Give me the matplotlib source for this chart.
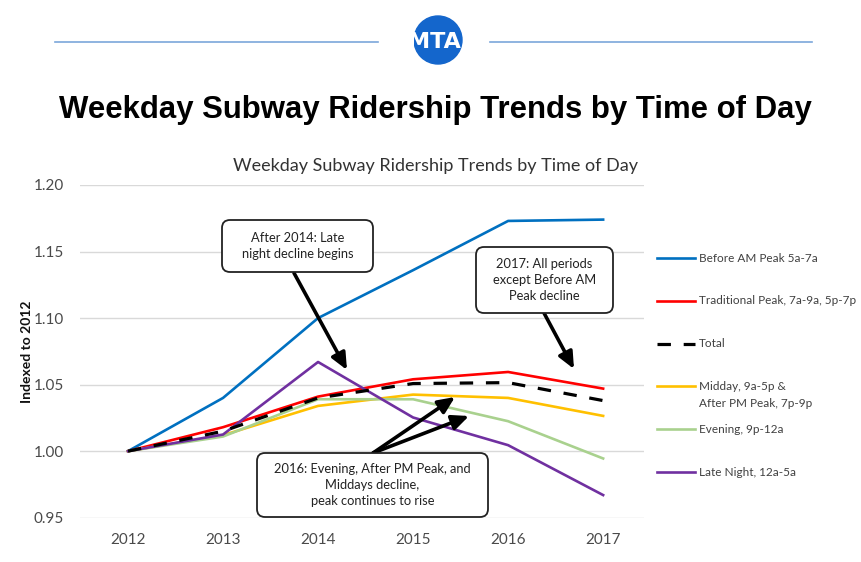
import numpy as np
import matplotlib
matplotlib.use("Agg")
import matplotlib.pyplot as plt
from matplotlib.patches import Circle, FancyBboxPatch, FancyArrowPatch

plt.rcParams['font.family'] = ['Lato', 'DejaVu Sans']

# data
years = ['2012', '2013', '2014', '2015', '2016', '2017']
before_am = [1.000, 1.040, 1.100, 1.136, 1.173, 1.174]
trad_peak = [1.000, 1.018, 1.041, 1.054, 1.0595, 1.047]
total = [1.000, 1.015, 1.040, 1.0508, 1.0515, 1.038]
midday = [1.000, 1.012, 1.034, 1.0425, 1.040, 1.0265]
evening = [1.000, 1.011, 1.039, 1.039, 1.0225, 0.9945]
late_night = [1.000, 1.0125, 1.067, 1.0253, 1.0045, 0.967]

series_labels = ['Before AM Peak 5a-7a', 'Traditional Peak, 7a-9a, 5p-7p', 'Total',
                 'Midday, 9a-5p &\nAfter PM Peak, 7p-9p', 'Evening, 9p-12a', 'Late Night, 12a-5a']
series_values = [before_am, trad_peak, total, midday, evening, late_night]
colors = ['#0070C0', '#FF0000', '#000000', '#FFC000', '#A9D18E', '#7030A0']

yticks = [0.95, 1.00, 1.05, 1.10, 1.15, 1.20]

fig = plt.figure(figsize=(8.62, 5.62), dpi=100)
W, H = 862, 562

# main chart
ax = fig.add_axes([80.5 / W, 1 - 517.7 / H, 563.5 / W, (517.7 - 185) / H])
for lab, vals, c in zip(series_labels, series_values, colors):
    if lab == 'Total':
        ax.plot(years, vals, color=c, lw=2.3, linestyle=(0, (4.2, 4.0)), zorder=4)
    else:
        ax.plot(years, vals, color=c, lw=1.9, zorder=3)

ax.set_xlim(-0.5, 5.43)
ax.set_ylim(0.95, 1.20)
ax.set_yticks(yticks)
ax.set_yticklabels(['%.2f' % v for v in yticks])
ax.grid(axis='y', color='#d9d9d9', lw=1)
ax.set_axisbelow(True)
for s in ax.spines.values():
    s.set_visible(False)
ax.tick_params(length=0, labelsize=11, colors='#4a4a4a')
ax.tick_params(axis='y', pad=12)
ax.tick_params(axis='x', pad=11)

# overlay in pixel coords for header, legend, callouts
ov = fig.add_axes([0, 0, 1, 1], zorder=10)
ov.set_xlim(0, W)
ov.set_ylim(H, 0)
ov.set_axis_off()

# header
ov.plot([55, 378], [42, 42], color='#7ba7da', lw=1.2)
ov.plot([490, 812], [42, 42], color='#7ba7da', lw=1.2)
ov.add_patch(Circle((438, 40), 24, color='#1466cc'))
ov.text(434, 42, 'MTA', color='white', fontsize=16, fontweight='bold',
        family=['Liberation Sans Narrow', 'DejaVu Sans'], ha='center', va='center')
ov.text(435, 110, 'Weekday Subway Ridership Trends by Time of Day', fontsize=22.4,
        fontweight='bold', family=['Liberation Sans', 'DejaVu Sans'], ha='center', va='center')
ov.text(435.5, 166, 'Weekday Subway Ridership Trends by Time of Day', fontsize=13,
        color='#333333', ha='center', va='center')
ov.text(27.5, 351.5, 'Indexed to 2012', fontsize=10, fontweight='bold', rotation=90,
        ha='center', va='center', color='#111111')

# legend
for i, (lab, c) in enumerate(zip(series_labels, colors)):
    y = 258 + i * 42.8
    if lab == 'Total':
        ov.plot([657, 695], [y, y], color=c, lw=2.3, linestyle=(0, (4.2, 4.0)))
    else:
        ov.plot([657, 695], [y, y], color=c, lw=1.9)
    for k, line in enumerate(lab.split('\n')):
        ov.text(699, y + k * 17.5, line, fontsize=8.5, color='#404040', ha='left', va='center')

# callouts
def callout(x0, y0, x1, y1, text):
    ov.add_patch(FancyBboxPatch((x0, y0), x1 - x0, y1 - y0,
                                boxstyle='round,pad=0,rounding_size=8',
                                fc='white', ec='#222222', lw=1.3, zorder=5))
    ov.text((x0 + x1) / 2, (y0 + y1) / 2, text, fontsize=9.3, color='#222222',
            ha='center', va='center', linespacing=1.4, zorder=6)

def arrow(p0, p1):
    ov.add_patch(FancyArrowPatch(p0, p1, arrowstyle='-|>,head_length=1.0,head_width=0.45',
                                 mutation_scale=10, lw=2.6, color='black',
                                 shrinkA=0, shrinkB=0, zorder=4))

callout(222, 220, 373, 272, 'After 2014: Late\nnight decline begins')
arrow((294, 273), (347, 370))
callout(476, 247, 613, 313, '2017: All periods\nexcept Before AM\nPeak decline')
arrow((544, 313), (574, 369))
callout(257, 453, 488, 517, '2016: Evening, After PM Peak, and\nMiddays decline,\npeak continues to rise')
arrow((373, 453), (455, 397))
arrow((373, 453), (469, 416))

fig.savefig('out.png', dpi=100)
